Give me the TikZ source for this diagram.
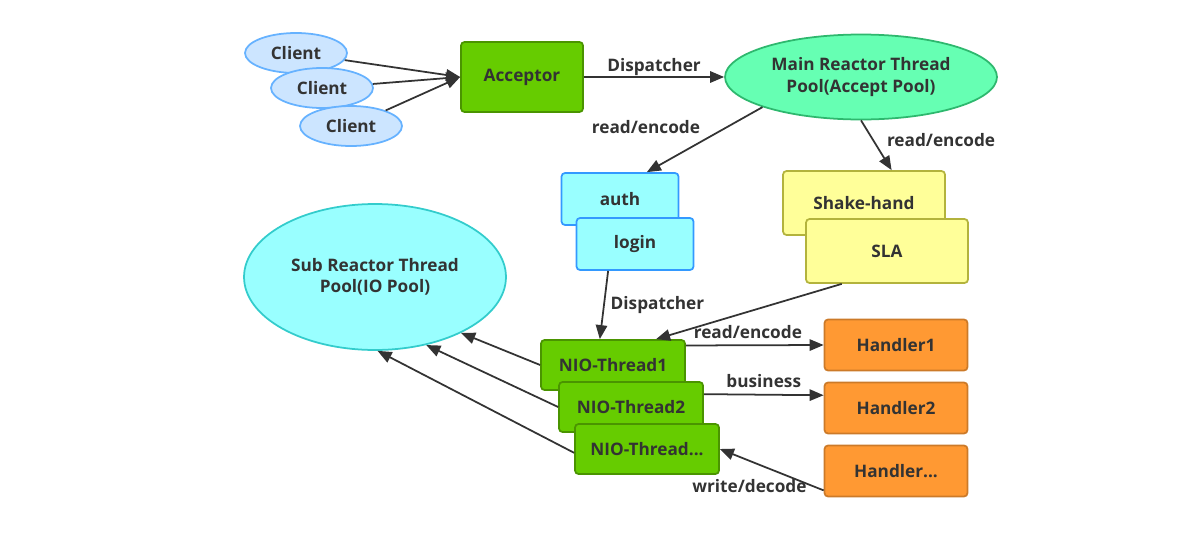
\documentclass[tikz,border=0pt]{standalone}
\usepackage{fontspec}
\setmainfont{Open Sans}
\usetikzlibrary{shapes.geometric,arrows.meta}

\definecolor{clientfill}{HTML}{CCE5FF}
\definecolor{clientline}{HTML}{66B2FF}
\definecolor{greenfill}{HTML}{66CC00}
\definecolor{greenline}{HTML}{4A9400}
\definecolor{mainfill}{HTML}{66FFB3}
\definecolor{mainline}{HTML}{2EB86E}
\definecolor{cyanfill}{HTML}{99FFFF}
\definecolor{authline}{HTML}{3399FF}
\definecolor{subline}{HTML}{33CCCC}
\definecolor{shakefill}{HTML}{FFFF99}
\definecolor{shakeline}{HTML}{B3B33C}
\definecolor{handfill}{HTML}{FF9933}
\definecolor{handline}{HTML}{CC7A29}
\definecolor{textgray}{HTML}{333333}

\begin{document}
\begin{tikzpicture}[x=0.02cm, y=-0.02cm, line width=1pt, >={Triangle[length=8pt,width=6.5pt]},
                    every node/.style={font=\bfseries\fontsize{9.8}{12}\selectfont, text=textgray},
                    client node/.style={ellipse,draw=clientline,fill=clientfill,minimum width=2.04cm,minimum height=0.8cm,inner sep=0pt},
                    pool node/.style={ellipse,align=center,inner sep=0pt},
                    green node/.style={rectangle,rounded corners=2pt,draw=greenline,fill=greenfill},
                    cyan node/.style={rectangle,rounded corners=2pt,draw=authline,fill=cyanfill,minimum width=2.34cm,minimum height=1.04cm},
                    shake node/.style={rectangle,rounded corners=2pt,draw=shakeline,fill=shakefill,minimum width=3.24cm,minimum height=1.28cm},
                    nio node/.style={green node,minimum width=2.88cm,minimum height=1cm},
                    handler node/.style={rectangle,rounded corners=2pt,draw=handline,fill=handfill,minimum width=2.86cm,minimum height=1.02cm}]

  \useasboundingbox (0,0) rectangle (1186,558);

  \node[client node] (c1) at (296,53) {Client};
  \node[client node] (c2) at (322,88) {Client};
  \node[client node] (c3) at (351,126) {Client};
  \node[green node,minimum width=2.44cm,minimum height=1.4cm] (acc) at (522,77) {Acceptor};
  \node[pool node,draw=mainline,fill=mainfill,minimum width=5.44cm,minimum height=1.7cm] (main) at (861,77) {Main Reactor Thread\\Pool(Accept Pool)};

  \node[cyan node] (auth) at (620,199) {auth};
  \node[cyan node] (login) at (635,244) {login};
  \node[shake node] (shake) at (864,203) {Shake-hand};
  \node[shake node] (sla) at (887,251) {SLA};

  \node[pool node,draw=subline,fill=cyanfill,minimum width=5.24cm,minimum height=2.92cm] (sub) at (375,277) {Sub Reactor Thread\\Pool(IO Pool)};

  \node[nio node] (nio1) at (613,365) {NIO-Thread1};
  \node[nio node] (nio2) at (631,407) {NIO-Thread2};
  \node[nio node] (nio3) at (647,449) {NIO-Thread...};

  \node[handler node] (h1) at (896,345) {Handler1};
  \node[handler node] (h2) at (896,408) {Handler2};
  \node[handler node] (h3) at (896,471) {Handler...};

  \path[->,color=textgray,every node/.style={font=\bfseries\fontsize{9.8}{12}\selectfont,text=textgray}]
    (c1) edge (acc.west)
    (c2) edge (acc.west)
    (c3) edge (acc.west)
    (acc) edge node[above=-3pt] {Dispatcher} (main)
    (main.197) edge node[pos=0.3,left=12pt] {read/encode} (auth.45)
    (main.south) edge node[pos=0.4,right=4pt] {read/encode} (shake.50)
    (login.225) edge node[pos=0.5,right] {Dispatcher} (nio1.117)
    (sla.216) edge (nio1.31)
    (nio1.15) edge node[pos=0.45,above] {read/encode} (h1.west)
    (nio2.10) edge node[above] {business} (h2.170)
    (h3.195) edge node[pos=0.1,left] {write/decode} (nio3.east)
    (nio1.west) edge (sub.327)
    (nio2.west) edge (sub.307)
    (nio3.183) edge (sub.272);
\end{tikzpicture}
\end{document}
